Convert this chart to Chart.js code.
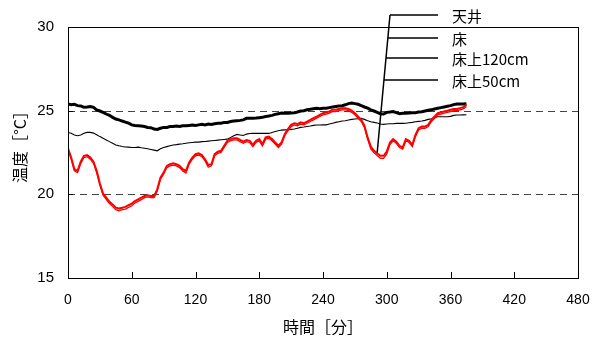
<!DOCTYPE html>
<html>
<head>
<meta charset="utf-8">
<script src="https://cdn.jsdelivr.net/npm/chart.js@4.4.1/dist/chart.umd.min.js"></script>
<style>
  html, body { margin: 0; padding: 0; background: #fff; }
  #wrap { width: 596px; height: 340px; position: relative; }
</style>
</head>
<body>
<div id="wrap"><canvas id="c" width="596" height="340"></canvas></div>
<script>
// Sampling times [min]
const minutes = [
  0,3,6,9,12,15,18,21,24,27,
  30,33,36,39,42,45,48,51,54,57,
  60,63,66,69,72,75,78,81,84,87,
  90,93,96,99,102,105,108,111,114,117,
  120,123,126,129,132,135,138,141,144,147,
  150,153,156,159,162,165,168,171,174,177,
  180,183,186,189,192,195,198,201,204,207,
  210,213,216,219,222,225,228,231,234,237,
  240,243,246,249,252,255,258,261,264,267,
  270,273,276,279,282,285,288,291,294,297,
  300,303,306,309,312,315,318,321,324,327,
  330,333,336,339,342,345,348,351,354,357,
  360,363,366,369,372,375
];

// 天井 (ceiling) [°C]
const ceiling = [
  25.4,25.35,25.38,25.3,25.28,25.2,25.22,25.25,25.2,25.05,
  24.98,24.9,24.8,24.72,24.6,24.5,24.45,24.38,24.32,24.25,
  24.15,24.12,24.1,24.08,24.05,24.0,23.98,23.9,23.88,23.95,
  24.0,24.0,24.05,24.05,24.08,24.05,24.1,24.1,24.12,24.14,
  24.12,24.15,24.18,24.15,24.2,24.18,24.22,24.25,24.25,24.3,
  24.3,24.35,24.38,24.4,24.42,24.45,24.54,24.54,24.55,24.56,
  24.58,24.6,24.65,24.68,24.72,24.78,24.82,24.86,24.85,24.84,
  24.86,24.88,24.92,24.98,25.0,25.05,25.08,25.12,25.14,25.12,
  25.15,25.14,25.18,25.22,25.25,25.28,25.3,25.35,25.42,25.45,
  25.42,25.38,25.3,25.22,25.15,25.05,24.98,24.9,24.82,24.8,
  24.9,24.92,24.95,24.88,24.82,24.85,24.85,24.86,24.88,24.88,
  24.92,24.94,24.98,25.02,25.06,25.1,25.14,25.18,25.22,25.26,
  25.3,25.36,25.4,25.4,25.4,25.42
];

// 床 (floor) [°C]
const floor = [
  23.7,23.65,23.55,23.5,23.55,23.65,23.7,23.7,23.66,23.56,
  23.45,23.35,23.25,23.15,23.05,22.95,22.9,22.86,22.83,22.82,
  22.8,22.8,22.82,22.78,22.75,22.72,22.68,22.64,22.6,22.72,
  22.8,22.85,22.9,22.95,22.97,23.0,23.02,23.05,23.08,23.1,
  23.12,23.12,23.15,23.16,23.18,23.2,23.22,23.24,23.26,23.28,
  23.3,23.4,23.5,23.58,23.55,23.52,23.6,23.64,23.65,23.64,
  23.65,23.64,23.65,23.64,23.7,23.75,23.8,23.84,23.85,23.86,
  23.88,23.9,23.95,24.0,24.02,24.05,24.08,24.12,24.14,24.14,
  24.15,24.15,24.2,24.25,24.3,24.34,24.38,24.4,24.44,24.48,
  24.5,24.52,24.54,24.48,24.4,24.34,24.3,24.26,24.2,24.18,
  24.2,24.22,24.22,24.24,24.24,24.24,24.25,24.28,24.3,24.34,
  24.36,24.38,24.42,24.48,24.52,24.58,24.64,24.64,24.64,24.64,
  24.66,24.72,24.74,24.74,24.75,24.76
];

// 床上120cm [°C]
const above120 = [
  22.75,22.2,21.5,21.4,21.95,22.3,22.35,22.2,21.95,21.4,
  20.65,20.05,19.8,19.55,19.4,19.2,19.15,19.2,19.25,19.35,
  19.45,19.6,19.7,19.8,19.9,19.95,19.9,19.9,20.3,21.0,
  21.3,21.7,21.8,21.85,21.8,21.7,21.5,21.4,21.9,22.2,
  22.4,22.45,22.35,22.1,21.75,21.8,22.4,22.55,22.6,22.9,
  23.2,23.3,23.35,23.35,23.25,23.15,23.25,23.2,22.95,23.2,
  23.3,23.0,23.4,23.45,23.3,23.1,22.9,23.1,23.6,23.9,
  24.15,24.25,24.2,24.3,24.25,24.35,24.45,24.55,24.65,24.75,
  24.85,24.9,24.95,25.05,25.05,25.1,25.15,25.15,25.1,25.0,
  24.85,24.65,24.45,24.1,23.4,22.85,22.6,22.45,22.3,22.3,
  22.55,23.1,23.3,23.15,22.9,22.8,23.3,23.2,22.95,23.55,
  23.95,24.05,24.05,24.15,24.45,24.65,24.85,24.9,24.95,25.0,
  25.05,25.1,25.1,25.15,25.2,25.35
];

// 床上50cm [°C]
const above50 = [
  22.65,22.1,21.4,21.3,21.85,22.2,22.25,22.1,21.85,21.3,
  20.55,19.95,19.7,19.45,19.28,19.08,19.02,19.08,19.12,19.22,
  19.32,19.48,19.58,19.68,19.8,19.85,19.8,19.8,20.2,20.9,
  21.2,21.6,21.7,21.75,21.7,21.6,21.4,21.28,21.8,22.1,
  22.3,22.35,22.25,22.0,21.62,21.7,22.3,22.45,22.5,22.8,
  23.1,23.2,23.25,23.25,23.15,23.05,23.15,23.1,22.85,23.1,
  23.2,22.9,23.3,23.35,23.2,23.0,22.8,23.0,23.5,23.8,
  24.05,24.15,24.1,24.2,24.15,24.25,24.35,24.45,24.55,24.65,
  24.75,24.8,24.85,24.95,24.95,25.0,25.05,25.05,25.0,24.9,
  24.75,24.55,24.35,24.0,23.3,22.72,22.48,22.32,22.15,22.15,
  22.42,22.98,23.2,23.05,22.8,22.7,23.2,23.1,22.85,23.45,
  23.85,23.95,23.95,24.05,24.35,24.55,24.75,24.8,24.85,24.9,
  24.95,25.0,25.0,25.05,25.1,25.25
];

const seriesNames = ['天井', '床', '床上120cm', '床上50cm'];
const xTicks = [0, 60, 120, 180, 240, 300, 360, 420, 480];
const yTicks = [15, 20, 25, 30];
const refLines = [20, 25];
// the point the legend leaders converge on
const leaderTarget = { t: 291, v: 22.5 };

const pts = arr => arr.map((v, i) => ({ x: minutes[i], y: v }));

const JP = "'Noto Sans CJK JP', sans-serif";
const NUM = "'Liberation Sans', Arial, sans-serif";

const framePlugin = {
  id: 'frame',
  beforeDatasetsDraw(chart) {
    const { ctx, chartArea: a, scales: { y } } = chart;
    ctx.save();
    // dashed reference lines
    ctx.strokeStyle = '#444';
    ctx.lineWidth = 1;
    ctx.setLineDash([7, 5]);
    refLines.forEach(v => {
      const py = Math.round(y.getPixelForValue(v)) + 0.5;
      ctx.beginPath(); ctx.moveTo(a.left, py); ctx.lineTo(a.right, py); ctx.stroke();
    });
    ctx.setLineDash([]);
    ctx.restore();
  },
  afterDatasetsDraw(chart) {
    const { ctx, chartArea: a, scales: { x, y } } = chart;
    ctx.save();
    ctx.strokeStyle = '#000';
    ctx.lineWidth = 1;
    // frame
    ctx.strokeRect(Math.round(a.left) + 0.5, Math.round(a.top) + 0.5,
                   Math.round(a.right - a.left), Math.round(a.bottom - a.top));
    // inward ticks
    ctx.beginPath();
    xTicks.slice(1, -1).forEach(t => {
      const px = Math.round(x.getPixelForValue(t)) + 0.5;
      ctx.moveTo(px, a.bottom); ctx.lineTo(px, a.bottom - 6);
    });
    yTicks.slice(1, -1).forEach(v => {
      const py = Math.round(y.getPixelForValue(v)) + 0.5;
      ctx.moveTo(a.left, py); ctx.lineTo(a.left + 5, py);
    });
    ctx.stroke();
    ctx.restore();
  },
  afterDraw(chart) {
    const { ctx, scales: { x, y } } = chart;
    ctx.save();
    // axis titles
    ctx.fillStyle = '#000';
    ctx.font = '16px ' + JP;
    ctx.textAlign = 'center';
    ctx.textBaseline = 'middle';
    ctx.fillText('時間［分］', 323, 327);
    ctx.translate(20, 143);
    ctx.rotate(-Math.PI / 2);
    ctx.fillText('温度［°C］', 0, 0);
    ctx.restore();

    // legend with leader lines
    ctx.save();
    const top = { x: 390, y: 15 };
    const end = { x: x.getPixelForValue(leaderTarget.t), y: y.getPixelForValue(leaderTarget.v) };
    const rows = [15, 38, 58, 80];
    const lineEnd = 438;
    ctx.strokeStyle = '#000';
    ctx.lineWidth = 1.5;
    ctx.beginPath();
    ctx.moveTo(top.x, top.y); ctx.lineTo(end.x, end.y);
    rows.forEach(ry => {
      const f = (ry - top.y) / (end.y - top.y);
      const sx = top.x + (end.x - top.x) * f;
      ctx.moveTo(sx, ry); ctx.lineTo(lineEnd, ry);
    });
    ctx.stroke();
    ctx.fillStyle = '#000';
    ctx.font = '15px ' + JP;
    ctx.textAlign = 'left';
    ctx.textBaseline = 'middle';
    seriesNames.forEach((n, i) => ctx.fillText(n, 452, rows[i] + 1));
    ctx.restore();
  }
};

new Chart(document.getElementById('c'), {
  type: 'line',
  data: {
    datasets: [
      { label: seriesNames[3], data: pts(above50), borderColor: '#ff0000', borderWidth: 1.3 },
      { label: seriesNames[2], data: pts(above120), borderColor: '#ff0000', borderWidth: 2 },
      { label: seriesNames[1], data: pts(floor), borderColor: '#000000', borderWidth: 1.1 },
      { label: seriesNames[0], data: pts(ceiling), borderColor: '#000000', borderWidth: 3 }
    ]
  },
  options: {
    responsive: false,
    animation: false,
    events: [],
    layout: { padding: { left: 0, right: 18, top: 27, bottom: 0 } },
    elements: { point: { radius: 0 }, line: { tension: 0, fill: false } },
    plugins: { legend: { display: false }, tooltip: { enabled: false } },
    scales: {
      x: {
        type: 'linear', min: 0, max: 480,
        afterBuildTicks: s => { s.ticks = xTicks.map(v => ({ value: v })); },
        afterFit: s => { s.height = 62; s.paddingLeft = 0; s.paddingRight = 0; },
        grid: { display: false, drawTicks: false },
        border: { display: false },
        ticks: { color: '#000', font: { family: NUM, size: 14 }, padding: 14, maxRotation: 0 }
      },
      y: {
        min: 15, max: 30,
        afterBuildTicks: s => { s.ticks = yTicks.map(v => ({ value: v })); },
        afterFit: s => { s.width = 68; s.paddingTop = 0; s.paddingBottom = 0; },
        grid: { display: false, drawTicks: false },
        border: { display: false },
        ticks: { color: '#000', font: { family: NUM, size: 15 }, padding: 14 }
      }
    }
  },
  plugins: [framePlugin]
});
</script>
</body>
</html>
